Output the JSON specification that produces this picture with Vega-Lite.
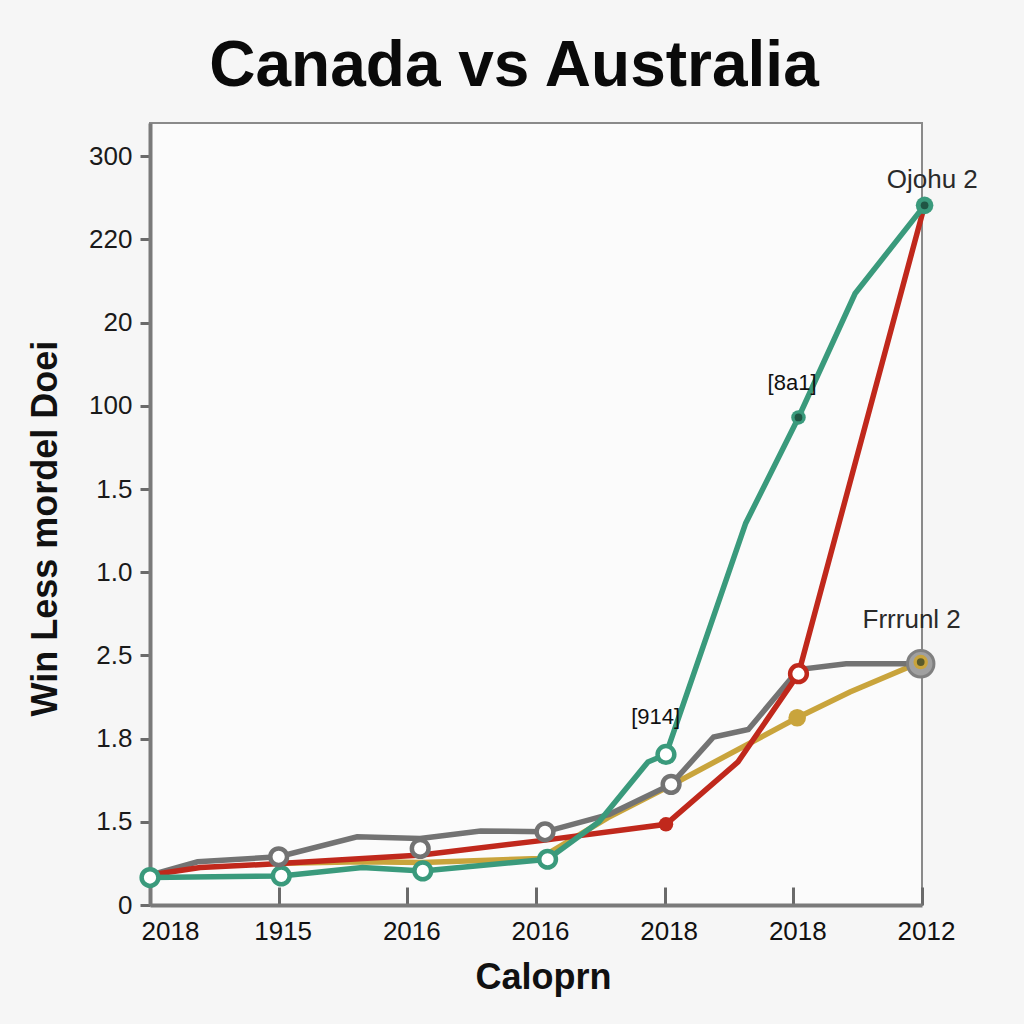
{
  "$schema": "https://vega.github.io/schema/vega-lite/v6.json",
  "autosize": "none",
  "width": 772,
  "height": 782,
  "padding": {"left": 150, "top": 123, "right": 102, "bottom": 119},
  "background": "#f6f6f6",
  "config": {"view": {"stroke": "#8a8a8a", "strokeWidth": 2, "fill": "#fbfbfb"}},
  "title": {
    "text": "Canada vs Australia",
    "font": "Liberation Sans",
    "fontSize": 64,
    "fontWeight": "bold",
    "color": "#0a0a0a",
    "anchor": "middle",
    "frame": "group",
    "offset": 24,
    "dx": -22
  },
  "datasets": {
    "lines": [
      {"series": "gold", "x": 0.93, "y": 0.5},
      {"series": "gold", "x": 1.65, "y": 0.52},
      {"series": "gold", "x": 2.12, "y": 0.51},
      {"series": "gold", "x": 3.03, "y": 0.56},
      {"series": "gold", "x": 3.56, "y": 1.05},
      {"series": "gold", "x": 4.05, "y": 1.44},
      {"series": "gold", "x": 5.03, "y": 2.25},
      {"series": "gold", "x": 5.44, "y": 2.56},
      {"series": "gold", "x": 5.99, "y": 2.92},
      {"series": "gray", "x": 0, "y": 0.36},
      {"series": "gray", "x": 0.37, "y": 0.52},
      {"series": "gray", "x": 1.0, "y": 0.58},
      {"series": "gray", "x": 1.61, "y": 0.82},
      {"series": "gray", "x": 2.1, "y": 0.8},
      {"series": "gray", "x": 2.57, "y": 0.89},
      {"series": "gray", "x": 3.07, "y": 0.88},
      {"series": "gray", "x": 3.57, "y": 1.09},
      {"series": "gray", "x": 4.05, "y": 1.45},
      {"series": "gray", "x": 4.38, "y": 2.02},
      {"series": "gray", "x": 4.65, "y": 2.11},
      {"series": "gray", "x": 5.04, "y": 2.83},
      {"series": "gray", "x": 5.41, "y": 2.9},
      {"series": "gray", "x": 5.99, "y": 2.9},
      {"series": "red", "x": 0, "y": 0.36},
      {"series": "red", "x": 0.39, "y": 0.45},
      {"series": "red", "x": 0.91, "y": 0.49},
      {"series": "red", "x": 2.11, "y": 0.6},
      {"series": "red", "x": 3.07, "y": 0.78},
      {"series": "red", "x": 4.01, "y": 0.97},
      {"series": "red", "x": 4.57, "y": 1.72},
      {"series": "red", "x": 5.04, "y": 2.78},
      {"series": "red", "x": 6.02, "y": 8.41},
      {"series": "green", "x": 0, "y": 0.33},
      {"series": "green", "x": 1.02, "y": 0.35},
      {"series": "green", "x": 1.65, "y": 0.45},
      {"series": "green", "x": 2.12, "y": 0.41},
      {"series": "green", "x": 3.09, "y": 0.55},
      {"series": "green", "x": 3.49, "y": 1.0},
      {"series": "green", "x": 3.87, "y": 1.72},
      {"series": "green", "x": 4.01, "y": 1.81},
      {"series": "green", "x": 4.63, "y": 4.59},
      {"series": "green", "x": 5.04, "y": 5.86},
      {"series": "green", "x": 5.48, "y": 7.35},
      {"series": "green", "x": 6.02, "y": 8.41}
    ],
    "markers": [
      {"series": "gray", "x": 5.99, "y": 2.9, "kind": "big", "core": 0},
      {"series": "green", "x": 0, "y": 0.33, "kind": "open", "core": 0},
      {"series": "green", "x": 1.02, "y": 0.35, "kind": "open", "core": 0},
      {"series": "green", "x": 2.12, "y": 0.41, "kind": "open", "core": 0},
      {"series": "green", "x": 3.09, "y": 0.55, "kind": "open", "core": 0},
      {"series": "green", "x": 4.01, "y": 1.81, "kind": "open", "core": 0},
      {"series": "gray", "x": 1.0, "y": 0.58, "kind": "open", "core": 0},
      {"series": "gray", "x": 2.1, "y": 0.68, "kind": "open", "core": 0},
      {"series": "gray", "x": 3.07, "y": 0.88, "kind": "open", "core": 0},
      {"series": "gray", "x": 4.05, "y": 1.45, "kind": "open", "core": 0},
      {"series": "red", "x": 5.04, "y": 2.78, "kind": "open", "core": 0},
      {"series": "red", "x": 4.01, "y": 0.97, "kind": "dot", "core": 0},
      {"series": "green", "x": 5.04, "y": 5.86, "kind": "dot", "core": 1},
      {"series": "gold", "x": 5.99, "y": 2.92, "kind": "dot", "core": 1},
      {"series": "green", "x": 6.02, "y": 8.41, "kind": "dotL", "core": 1},
      {"series": "gold", "x": 5.03, "y": 2.25, "kind": "dotL", "core": 0}
    ],
    "notes": [
      {"label": "Ojohu 2", "x": 6.08, "y": 8.71, "kind": "big"},
      {"label": "Frrrunl 2", "x": 5.92, "y": 3.43, "kind": "big"},
      {"label": "[8a1]", "x": 4.99, "y": 6.27, "kind": "small"},
      {"label": "[914]", "x": 3.93, "y": 2.26, "kind": "small"}
    ]
  },
  "layer": [
    {
      "data": {"name": "lines"},
      "mark": {"type": "line", "strokeWidth": 5.5, "clip": false},
      "encoding": {
        "x": {
          "field": "x",
          "type": "quantitative",
          "scale": {"domain": [0, 6], "nice": false, "zero": false},
          "axis": {
            "values": [0, 1, 2, 3, 4, 5, 6],
            "labelExpr": "['2018','1915','2016','2016','2018','2018','2012'][datum.value]",
            "labelFlush": false,
            "labelOverlap": false,
            "labelOffset": {"condition": {"test": "datum.value === 0", "value": 20}, "value": 4},
            "labelFont": "Liberation Sans",
            "labelFontSize": 26,
            "labelColor": "#111111",
            "labelPadding": 31,
            "tickSize": -18,
            "tickWidth": 3,
            "tickColor": "#6a6a6a",
            "domainColor": "#7a7a7a",
            "domainWidth": 4,
            "grid": false,
            "title": "Caloprn",
            "titleFont": "Liberation Sans",
            "titleFontSize": 36,
            "titleFontWeight": "bold",
            "titleColor": "#111111",
            "titleX": 393,
            "titleY": 72,
            "titleBaseline": "middle",
            "titleAlign": "center"
          }
        },
        "y": {
          "field": "y",
          "type": "quantitative",
          "scale": {"domain": [0, 9.4], "nice": false, "zero": false},
          "axis": {
            "values": [0, 1, 2, 3, 4, 5, 6, 7, 8, 9],
            "labelExpr": "['0','1.5','1.8','2.5','1.0','1.5','100','20','220','300'][datum.value]",
            "labelFont": "Liberation Sans",
            "labelFontSize": 26,
            "labelColor": "#1a1a1a",
            "labelPadding": 8,
            "tickSize": 10,
            "tickWidth": 3,
            "tickColor": "#6a6a6a",
            "domainColor": "#7a7a7a",
            "domainWidth": 4,
            "grid": false,
            "title": "Win Less mordel Doei",
            "titleFont": "Liberation Sans",
            "titleFontSize": 36,
            "titleFontWeight": "bold",
            "titleColor": "#111111",
            "titleAngle": -90,
            "titleX": -105,
            "titleY": 405,
            "titleAlign": "center",
            "titleBaseline": "middle"
          }
        },
        "color": {
          "field": "series",
          "type": "nominal",
          "scale": {"domain": ["gold", "gray", "red", "green"], "range": ["#c9a43c", "#737373", "#c0281c", "#3a9a7c"]},
          "legend": null
        },
        "order": {"field": "x", "type": "quantitative"}
      }
    },
    {
      "data": {"name": "markers"},
      "transform": [{"filter": "datum.kind === 'big'"}],
      "mark": {"type": "point", "filled": true, "fill": "#a0a0a0", "stroke": "#808080", "strokeWidth": 3, "size": 700, "opacity": 1, "clip": false},
      "encoding": {
        "x": {"field": "x", "type": "quantitative"},
        "y": {"field": "y", "type": "quantitative"}
      }
    },
    {
      "data": {"name": "markers"},
      "transform": [{"filter": "datum.kind === 'open'"}],
      "mark": {"type": "point", "filled": false, "fill": "white", "fillOpacity": 1, "strokeWidth": 4.5, "size": 280, "opacity": 1, "clip": false},
      "encoding": {
        "x": {"field": "x", "type": "quantitative"},
        "y": {"field": "y", "type": "quantitative"},
        "stroke": {
          "field": "series",
          "type": "nominal",
          "scale": {"domain": ["gold", "gray", "red", "green"], "range": ["#c9a43c", "#737373", "#c0281c", "#3a9a7c"]},
          "legend": null
        }
      }
    },
    {
      "data": {"name": "markers"},
      "transform": [{"filter": "datum.kind === 'dot'"}],
      "mark": {"type": "point", "filled": true, "size": 210, "opacity": 1, "clip": false},
      "encoding": {
        "x": {"field": "x", "type": "quantitative"},
        "y": {"field": "y", "type": "quantitative"},
        "color": {"field": "series", "type": "nominal", "legend": null}
      }
    },
    {
      "data": {"name": "markers"},
      "transform": [{"filter": "datum.kind === 'dotL'"}],
      "mark": {"type": "point", "filled": true, "size": 310, "opacity": 1, "clip": false},
      "encoding": {
        "x": {"field": "x", "type": "quantitative"},
        "y": {"field": "y", "type": "quantitative"},
        "color": {"field": "series", "type": "nominal", "legend": null}
      }
    },
    {
      "data": {"name": "markers"},
      "transform": [{"filter": "datum.core === 1"}],
      "mark": {"type": "point", "filled": true, "color": "#0f2a20", "size": 60, "opacity": 0.6, "clip": false},
      "encoding": {
        "x": {"field": "x", "type": "quantitative"},
        "y": {"field": "y", "type": "quantitative"}
      }
    },
    {
      "data": {"name": "notes"},
      "transform": [{"filter": "datum.kind === 'big'"}],
      "mark": {"type": "text", "font": "Liberation Sans", "fontSize": 26, "color": "#2a2a2a", "align": "center", "baseline": "middle", "clip": false},
      "encoding": {
        "x": {"field": "x", "type": "quantitative"},
        "y": {"field": "y", "type": "quantitative"},
        "text": {"field": "label"}
      }
    },
    {
      "data": {"name": "notes"},
      "transform": [{"filter": "datum.kind === 'small'"}],
      "mark": {"type": "text", "font": "Liberation Sans", "fontSize": 22, "color": "#111111", "align": "center", "baseline": "middle", "clip": false},
      "encoding": {
        "x": {"field": "x", "type": "quantitative"},
        "y": {"field": "y", "type": "quantitative"},
        "text": {"field": "label"}
      }
    }
  ]
}
